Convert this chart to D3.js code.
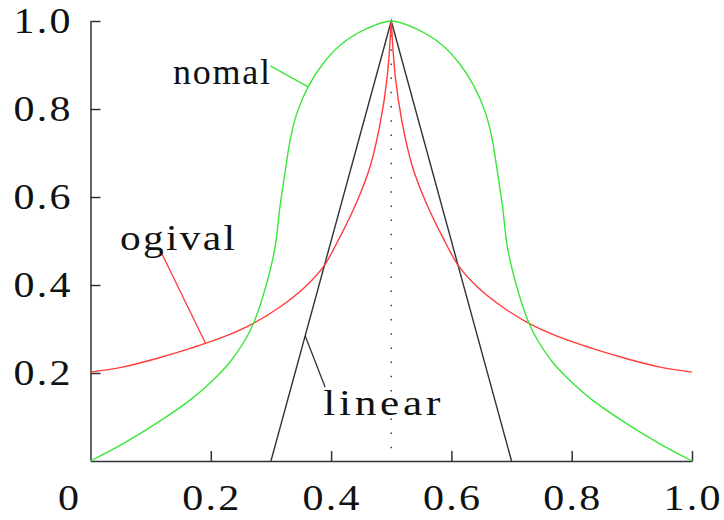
<!DOCTYPE html>
<html>
<head>
<meta charset="utf-8">
<script src="https://cdn.jsdelivr.net/npm/d3@7"></script>
<style>
  html, body { margin: 0; padding: 0; background: #ffffff; }
  svg { display: block; }
  text { font-family: "Liberation Serif", "DejaVu Serif", serif; fill: #111; }
</style>
</head>
<body>
<svg id="chart" width="724" height="520"></svg>
<script>
// ---- data ----
const xTickValues = [0, 0.2, 0.4, 0.6, 0.8, 1.0];
const xTickLabels = ["0", "0.2", "0.4", "0.6", "0.8", "1.0"];
const yTickValues = [0.2, 0.4, 0.6, 0.8, 1.0];
const yTickLabels = ["0.2", "0.4", "0.6", "0.8", "1.0"];

// "nomal" (green) curve
const nomalX = [0, 0.055, 0.11, 0.166, 0.2, 0.232, 0.257, 0.271, 0.293, 0.307, 0.315, 0.324, 0.332, 0.343, 0.362, 0.387, 0.415, 0.46, 0.5,
                0.54, 0.585, 0.613, 0.638, 0.657, 0.668, 0.676, 0.685, 0.693, 0.707, 0.729, 0.743, 0.768, 0.8, 0.834, 0.89, 0.945, 1.0];
const nomalY = [0, 0.040, 0.086, 0.139, 0.179, 0.225, 0.275, 0.313, 0.404, 0.487, 0.578, 0.661, 0.730, 0.790, 0.851, 0.904, 0.945, 0.983, 1.0,
                0.983, 0.945, 0.904, 0.851, 0.790, 0.730, 0.661, 0.578, 0.487, 0.404, 0.313, 0.275, 0.225, 0.179, 0.139, 0.086, 0.040, 0];

// "ogival" (red) curve
const ogivalX = [0, 0.055, 0.11, 0.166, 0.221, 0.271, 0.315, 0.354, 0.387, 0.415, 0.443, 0.465, 0.482, 0.493, 0.5,
                 0.507, 0.518, 0.535, 0.557, 0.585, 0.613, 0.646, 0.685, 0.729, 0.779, 0.834, 0.89, 0.945, 1.0];
const ogivalY = [0.202, 0.214, 0.233, 0.256, 0.282, 0.313, 0.350, 0.392, 0.441, 0.51, 0.59, 0.67, 0.77, 0.87, 1.0,
                 0.87, 0.77, 0.67, 0.59, 0.51, 0.441, 0.392, 0.350, 0.313, 0.282, 0.256, 0.233, 0.214, 0.202];

// "linear" (black) triangle
const linearX = [0.3, 0.5, 0.7];
const linearY = [0, 1, 0];

// curve labels: text, text anchor (data coords), leader line (data coords)
const labelNames = ["nomal", "ogival", "linear"];
const labelX = [0.137, 0.049, 0.387];
const labelY = [0.857, 0.480, 0.105];
const leaderX1 = [0.299, 0.118, 0.390];
const leaderY1 = [0.898, 0.473, 0.168];
const leaderX2 = [0.361, 0.191, 0.357];
const leaderY2 = [0.851, 0.268, 0.284];
const labelColors = ["#3ae63a", "#ff3b3b", "#333333"];

// ---- drawing ----
const svg = d3.select("#chart");
svg.append("rect").attr("width", 724).attr("height", 520).attr("fill", "#fff");

const x = d3.scaleLinear().domain([0, 1]).range([90.5, 692]);
const y = d3.scaleLinear().domain([0, 1]).range([461, 21]);

// dotted vertical at the peak
svg.append("line")
  .attr("x1", x(0.5)).attr("x2", x(0.5))
  .attr("y1", y(0)).attr("y2", y(1))
  .attr("stroke", "#333").attr("stroke-width", 1.4)
  .attr("stroke-dasharray", "1.5,12.7")
  .attr("stroke-dashoffset", -12.7);

// axes (lines and inward ticks)
const xAxis = d3.axisBottom(x).tickValues(xTickValues.filter(v => v > 0))
  .tickSizeInner(-10).tickSizeOuter(0).tickFormat("");
const gx = svg.append("g").attr("transform", `translate(0,${y(0)})`).call(xAxis);
const yAxis = d3.axisLeft(y).tickValues(yTickValues)
  .tickSizeInner(-10).tickSizeOuter(0).tickFormat("");
const gy = svg.append("g").attr("transform", `translate(${x(0)},0)`).call(yAxis);
[gx, gy].forEach(g => {
  g.select(".domain").attr("stroke", "#333").attr("stroke-width", 1.5);
  g.selectAll(".tick line").attr("stroke", "#333").attr("stroke-width", 1.5);
});

// text helper (wide glyphs via horizontal stretch, spacing via textLength)
function addText(px, py, str, size, width, anchor, sx) {
  const t = svg.append("text")
    .attr("transform", `translate(${px},${py}) scale(${sx},1)`)
    .attr("text-anchor", anchor)
    .style("font-size", size + "px")
    .text(str);
  if (width) t.attr("textLength", width / sx).attr("lengthAdjust", "spacing");
  return t;
}
yTickValues.forEach((v, i) => {
  addText(x(0) - 20, y(v) + 11.5, yTickLabels[i], 35, 57, "end", 1.2);
});
xTickValues.forEach((v, i) => {
  const lbl = xTickLabels[i];
  if (lbl.length > 1) addText(x(v), y(0) + 49, lbl, 35, 57, "middle", 1.2);
  else addText(x(v) - 22, y(0) + 49, lbl, 35, null, "middle", 1.2);
});

// curves
const zip = (xs, ys) => xs.map((v, i) => [v, ys[i]]);
const line = d3.line().x(d => x(d[0])).y(d => y(d[1]));
const smooth = d3.line().x(d => x(d[0])).y(d => y(d[1])).curve(d3.curveCatmullRom.alpha(0.5));

// linear
svg.append("path").datum(zip(linearX, linearY))
  .attr("d", line).attr("fill", "none")
  .attr("stroke", "#333333").attr("stroke-width", 1.4);

// ogival: two halves meeting at a cusp
const og = zip(ogivalX, ogivalY);
const ogLeft = og.filter(d => d[0] <= 0.5);
const ogRight = og.filter(d => d[0] >= 0.5);
[ogLeft, ogRight].forEach(seg => {
  svg.append("path").datum(seg)
    .attr("d", smooth).attr("fill", "none")
    .attr("stroke", "#ff3b3b").attr("stroke-width", 1.4);
});

// nomal
svg.append("path").datum(zip(nomalX, nomalY))
  .attr("d", smooth).attr("fill", "none")
  .attr("stroke", "#3ae63a").attr("stroke-width", 1.4);

// labels + leader lines
const labelWidths = [97, 115, 117];
const labelStretch = [1.0, 1.15, 1.2];
labelNames.forEach((name, i) => {
  svg.append("line")
    .attr("x1", x(leaderX1[i])).attr("y1", y(leaderY1[i]))
    .attr("x2", x(leaderX2[i])).attr("y2", y(leaderY2[i]))
    .attr("stroke", labelColors[i]).attr("stroke-width", 1.3);
  addText(x(labelX[i]), y(labelY[i]), name, 36, labelWidths[i], "start", labelStretch[i]);
});
</script>
</body>
</html>
